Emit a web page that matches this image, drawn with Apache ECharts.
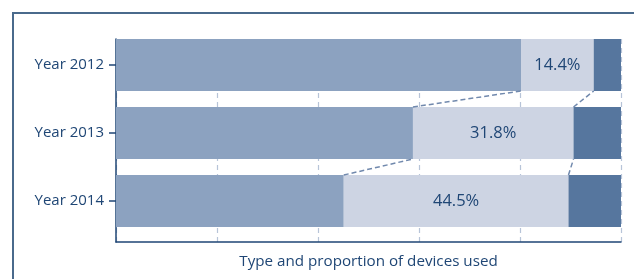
<!DOCTYPE html>
<html><head><meta charset="utf-8">
<script src="https://cdn.jsdelivr.net/npm/echarts@6/dist/echarts.min.js"></script>
<style>html,body{margin:0;padding:0;background:#fff}#c{width:634px;height:279px}</style>
</head><body><div id="c"></div>
<script>
const categories = ['Year 2012', 'Year 2013', 'Year 2014'];
const firstShare = [80.2, 58.8, 45.1];
const middleShare = [14.4, 31.8, 44.5];
const lastShare = [5.4, 9.4, 10.4];
const xTicks = [0, 20, 40, 60, 80, 100];
const axisTitle = 'Type and proportion of devices used';

const dark = '#1f4675';
const font = 'Open Sans';
const chart = echarts.init(document.getElementById('c'));
const barRatio = 52 / 68;

chart.setOption({
  animation: false,
  graphic: [{
    type: 'polyline', silent: true,
    shape: { points: [[13, 279], [13, 13], [634, 13]] },
    style: { stroke: '#4a6a8c', lineWidth: 2, fill: null }
  }],
  grid: [
    { left: 116, right: 13, top: 31, height: 204 },
    { left: 116, right: 13, top: 39, height: 203 }
  ],
  xAxis: [
    { gridIndex: 0, type: 'value', min: xTicks[0], max: xTicks[xTicks.length - 1], interval: 20,
      axisLine: { show: false }, axisTick: { show: false }, axisLabel: { show: false }, splitLine: { show: false } },
    { gridIndex: 1, type: 'value', min: xTicks[0], max: xTicks[xTicks.length - 1], interval: 20,
      axisLine: { show: true, lineStyle: { color: dark, width: 1.5 } },
      axisTick: { show: false }, axisLabel: { show: false },
      splitLine: { show: true, lineStyle: { color: '#b7c4d8', type: [5, 4], width: 1.2 } },
      name: axisTitle, nameLocation: 'middle', nameGap: 12,
      nameTextStyle: { color: dark, fontSize: 15.2, fontFamily: font } }
  ],
  yAxis: [
    { gridIndex: 0, type: 'category', data: categories, inverse: true,
      axisLine: { show: false },
      axisTick: { show: true, alignWithLabel: true, length: 7, lineStyle: { color: dark, width: 1.5 } },
      axisLabel: { color: dark, fontSize: 15, fontFamily: font, margin: 12 } },
    { gridIndex: 1, type: 'value', min: 0, max: 1,
      axisLine: { show: true, lineStyle: { color: dark, width: 1.5 } },
      axisTick: { show: false }, axisLabel: { show: false }, splitLine: { show: false } }
  ],
  series: [
    { type: 'bar', stack: 's', xAxisIndex: 0, yAxisIndex: 0, data: firstShare,
      barWidth: '76.5%', itemStyle: { color: '#8ca2c0' } },
    { type: 'bar', stack: 's', xAxisIndex: 0, yAxisIndex: 0, data: middleShare,
      itemStyle: { color: '#cdd4e3' },
      label: { show: true, position: 'inside', formatter: p => p.value.toFixed(1) + '%',
        color: dark, fontSize: 16.5, fontFamily: font } },
    { type: 'bar', stack: 's', xAxisIndex: 0, yAxisIndex: 0, data: lastShare,
      itemStyle: { color: '#56769e' } },
    { type: 'custom', xAxisIndex: 0, yAxisIndex: 0, z: 5, data: [[0], [1]],
      renderItem: function (params, api) {
        const i = api.value(0);
        const bh = api.size([0, 1])[1] * barRatio;
        const up = api.coord([firstShare[i], i]);
        const lo = api.coord([firstShare[i + 1], i + 1]);
        const up2 = api.coord([firstShare[i] + middleShare[i], i]);
        const lo2 = api.coord([firstShare[i + 1] + middleShare[i + 1], i + 1]);
        const yU = up[1] + bh / 2, yL = lo[1] - bh / 2;
        const st = { stroke: '#7189ad', lineWidth: 1.5, lineDash: [5, 3] };
        return { type: 'group', children: [
          { type: 'line', shape: { x1: lo[0], y1: yL, x2: up[0], y2: yU }, style: st },
          { type: 'line', shape: { x1: lo2[0], y1: yL, x2: up2[0], y2: yU }, style: st }
        ] };
      } }
  ]
});
</script></body></html>
